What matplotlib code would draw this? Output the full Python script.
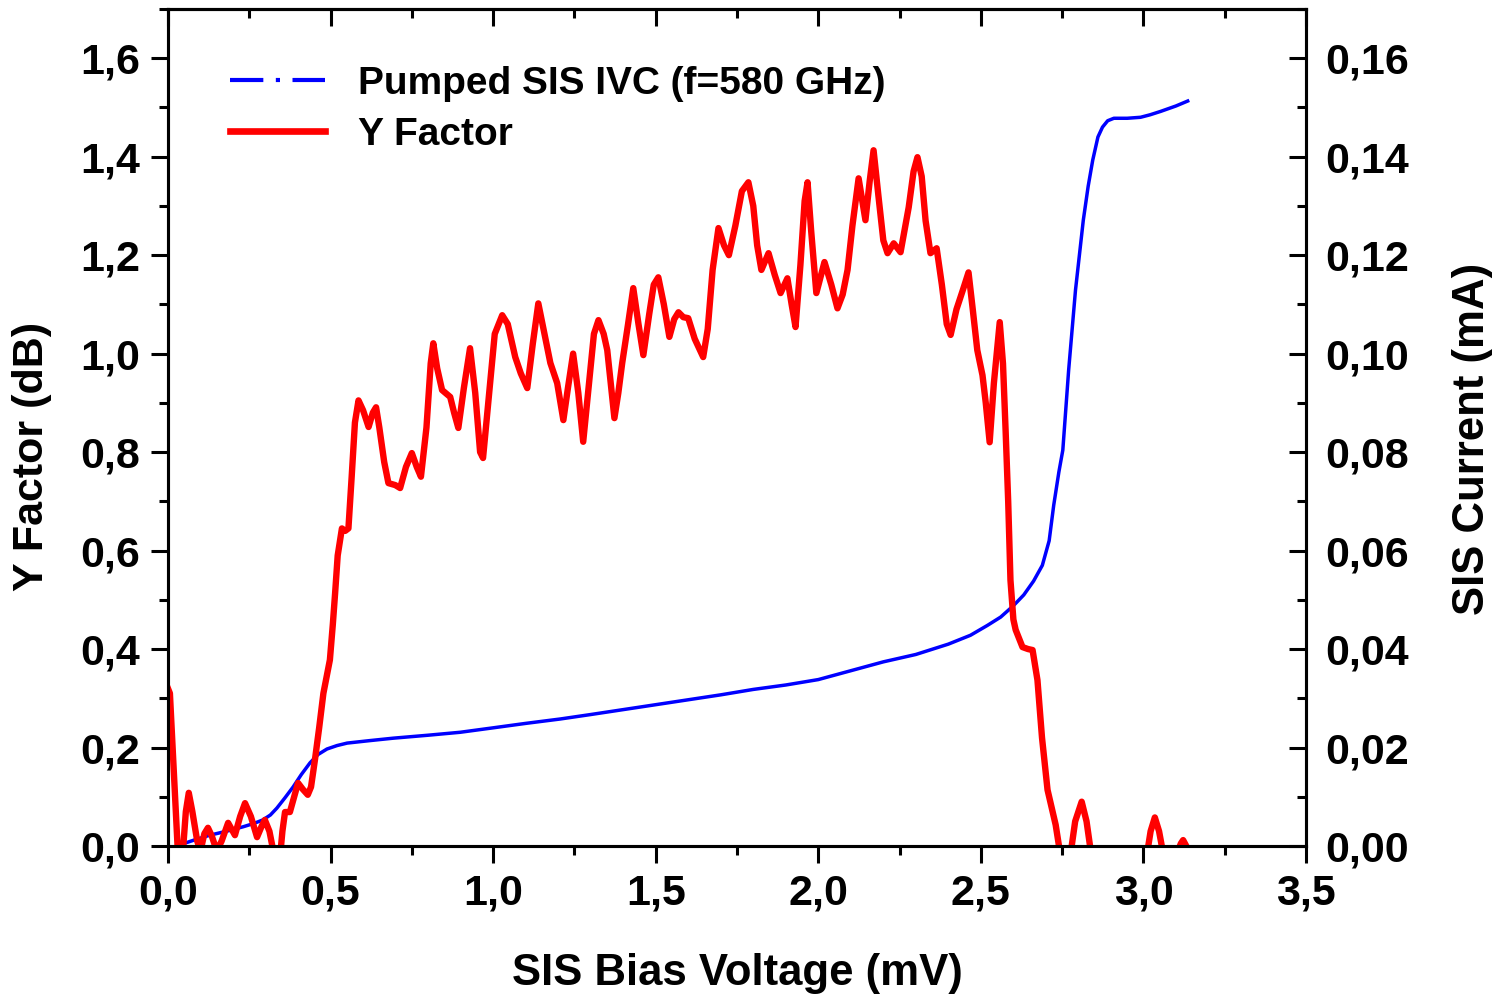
import matplotlib
matplotlib.use("Agg")
import matplotlib.pyplot as plt
from matplotlib.ticker import MultipleLocator, FuncFormatter
from matplotlib.lines import Line2D

# Y factor curve (dB) vs bias voltage (mV)
yf_v = [0.000, 0.006, 0.018, 0.031, 0.045, 0.055, 0.064, 0.075, 0.090, 0.100,
        0.112, 0.123, 0.135, 0.150, 0.165, 0.185, 0.206, 0.222, 0.237, 0.255,
        0.274, 0.288, 0.298, 0.312, 0.327, 0.345, 0.352, 0.360, 0.375, 0.400,
        0.415, 0.430, 0.440, 0.452, 0.465, 0.478, 0.498, 0.507, 0.514, 0.522,
        0.535, 0.545, 0.555, 0.565, 0.575, 0.586, 0.600, 0.617, 0.630, 0.640,
        0.650, 0.665, 0.678, 0.699, 0.714, 0.732, 0.750, 0.765, 0.778, 0.795,
        0.808, 0.816, 0.828, 0.843, 0.868, 0.880, 0.893, 0.910, 0.929, 0.945,
        0.960, 0.969, 0.985, 1.005, 1.028, 1.045, 1.068, 1.085, 1.105, 1.122,
        1.139, 1.155, 1.176, 1.197, 1.216, 1.230, 1.246, 1.262, 1.277, 1.295,
        1.310, 1.324, 1.340, 1.351, 1.373, 1.385, 1.397, 1.415, 1.431, 1.447,
        1.462, 1.480, 1.494, 1.508, 1.525, 1.542, 1.557, 1.570, 1.585, 1.600,
        1.620, 1.646, 1.660, 1.675, 1.693, 1.710, 1.725, 1.745, 1.765, 1.785,
        1.800, 1.812, 1.825, 1.847, 1.866, 1.884, 1.905, 1.918, 1.930, 1.945,
        1.958, 1.967, 1.978, 1.994, 2.019, 2.040, 2.059, 2.075, 2.090, 2.105,
        2.124, 2.145, 2.158, 2.170, 2.185, 2.200, 2.213, 2.232, 2.253, 2.278,
        2.293, 2.305, 2.318, 2.330, 2.345, 2.364, 2.380, 2.395, 2.407, 2.425,
        2.445, 2.462, 2.475, 2.489, 2.505, 2.515, 2.527, 2.540, 2.558, 2.568,
        2.576, 2.584, 2.591, 2.600, 2.607, 2.628, 2.645, 2.659, 2.674, 2.688,
        2.705, 2.730, 2.745, 2.775, 2.790, 2.810, 2.825, 2.840, 3.010, 3.022,
        3.035, 3.048, 3.062, 3.100, 3.115, 3.122, 3.130]
yf_db = [0.32, 0.31, 0.15, -0.02, -0.02, 0.07, 0.108, 0.07, 0.01, -0.01,
         0.025, 0.037, 0.02, -0.01, 0.01, 0.047, 0.022, 0.06, 0.087, 0.06,
         0.018, 0.04, 0.053, 0.03, -0.02, -0.02, 0.03, 0.069, 0.069, 0.128,
         0.115, 0.104, 0.12, 0.175, 0.24, 0.31, 0.378, 0.45, 0.513, 0.59,
         0.645, 0.64, 0.645, 0.75, 0.86, 0.905, 0.885, 0.851, 0.88, 0.891,
         0.85, 0.78, 0.737, 0.733, 0.727, 0.77, 0.798, 0.77, 0.75, 0.85,
         0.98, 1.021, 0.97, 0.926, 0.912, 0.88, 0.849, 0.93, 1.011, 0.92,
         0.80, 0.788, 0.90, 1.04, 1.078, 1.06, 0.993, 0.96, 0.93, 1.02,
         1.102, 1.05, 0.981, 0.94, 0.865, 0.93, 1.0, 0.92, 0.821, 0.94,
         1.04, 1.068, 1.04, 1.007, 0.869, 0.92, 0.981, 1.06, 1.133, 1.06,
         0.997, 1.08, 1.14, 1.155, 1.10, 1.034, 1.07, 1.084, 1.074, 1.072,
         1.03, 0.993, 1.05, 1.17, 1.255, 1.22, 1.2, 1.26, 1.33, 1.348,
         1.30, 1.22, 1.17, 1.204, 1.16, 1.123, 1.153, 1.10, 1.054, 1.18,
         1.31, 1.348, 1.25, 1.123, 1.186, 1.14, 1.092, 1.12, 1.17, 1.26,
         1.356, 1.271, 1.35, 1.413, 1.32, 1.23, 1.204, 1.224, 1.206, 1.297,
         1.37, 1.399, 1.36, 1.27, 1.204, 1.214, 1.14, 1.06, 1.038, 1.09,
         1.13, 1.165, 1.09, 1.007, 0.956, 0.90, 0.82, 0.94, 1.064, 0.98,
         0.845, 0.70, 0.54, 0.46, 0.439, 0.404, 0.40, 0.398, 0.337, 0.22,
         0.114, 0.043, -0.02, -0.02, 0.05, 0.09, 0.05, -0.02, -0.02, 0.03,
         0.058, 0.03, -0.02, -0.02, 0.005, 0.012, 0.002]

# pumped IV curve (mA)
iv_v = [0.040, 0.080, 0.129, 0.180, 0.231, 0.265, 0.292, 0.315, 0.335, 0.360,
        0.385, 0.410, 0.437, 0.462, 0.489, 0.520, 0.551, 0.620, 0.693, 0.800,
        0.899, 1.000, 1.100, 1.207, 1.300, 1.400, 1.500, 1.600, 1.700, 1.800,
        1.900, 2.000, 2.100, 2.200, 2.300, 2.400, 2.468, 2.520, 2.561, 2.600,
        2.632, 2.662, 2.689, 2.710, 2.724, 2.740, 2.752, 2.770, 2.791, 2.815,
        2.830, 2.844, 2.860, 2.874, 2.890, 2.909, 2.950, 2.991, 3.020, 3.053,
        3.100, 3.136]
iv_ma = [0.0003, 0.0012, 0.0022, 0.0030, 0.0039, 0.0046, 0.0053, 0.0063, 0.0077, 0.0098,
         0.0120, 0.0145, 0.0169, 0.0186, 0.0197, 0.0204, 0.0209, 0.0214, 0.0219, 0.0225,
         0.0231, 0.0240, 0.0249, 0.0258, 0.0267, 0.0277, 0.0287, 0.0297, 0.0307, 0.0318,
         0.0327, 0.0338, 0.0356, 0.0374, 0.0389, 0.0410, 0.0428, 0.0448, 0.0465, 0.0488,
         0.0510, 0.0538, 0.0570, 0.0620, 0.0692, 0.0760, 0.0804, 0.0967, 0.1129, 0.1271,
         0.1340, 0.1393, 0.1440, 0.1460, 0.1473, 0.1478, 0.1478, 0.1480, 0.1485, 0.1492,
         0.1503, 0.1513]

plt.rcParams['font.family'] = ['Liberation Sans', 'DejaVu Sans']
plt.rcParams['font.weight'] = 'bold'

fig = plt.figure(figsize=(15.05, 9.96), dpi=100)
ax = fig.add_axes([0.1116, 0.1506, 0.7562, 0.8404])
ax2 = ax.twinx()

ax2.plot(iv_v, iv_ma, color='#0000ff', lw=2.5)
ax.plot(yf_v, yf_db, color='#ff0000', lw=4.6, solid_joinstyle='round')

# red curve sits above the blue one
ax.set_zorder(ax2.get_zorder() + 1)
ax.patch.set_visible(False)

ax.set_xlim(0, 3.5)
ax.set_ylim(0, 1.7)
ax2.set_ylim(0, 0.17)

comma1 = FuncFormatter(lambda v, p: f'{v:.1f}'.replace('.', ','))
comma2 = FuncFormatter(lambda v, p: f'{v:.2f}'.replace('.', ','))

ax.xaxis.set_major_locator(MultipleLocator(0.5))
ax.xaxis.set_minor_locator(MultipleLocator(0.25))
ax.yaxis.set_major_locator(MultipleLocator(0.2))
ax.yaxis.set_minor_locator(MultipleLocator(0.1))
ax2.yaxis.set_major_locator(MultipleLocator(0.02))
ax2.yaxis.set_minor_locator(MultipleLocator(0.01))
ax.xaxis.set_major_formatter(comma1)
ax.yaxis.set_major_formatter(comma1)
ax2.yaxis.set_major_formatter(comma2)

for a in (ax, ax2):
    for s in a.spines.values():
        s.set_linewidth(2.2)

ax.tick_params(which='major', direction='out', length=12, width=2.2,
               labelsize=31, pad=8)
ax.tick_params(which='minor', direction='out', length=6.5, width=2.2)
ax2.tick_params(which='major', direction='in', length=12, width=2.2,
                labelsize=31, pad=14)
ax2.tick_params(which='minor', direction='in', length=6.5, width=2.2)

top = ax.secondary_xaxis('top')
top.xaxis.set_major_locator(MultipleLocator(0.5))
top.xaxis.set_minor_locator(MultipleLocator(0.25))
top.tick_params(which='major', direction='in', length=12, width=2.2, labeltop=False)
top.tick_params(which='minor', direction='in', length=6.5, width=2.2)
top.spines['top'].set_linewidth(2.2)

ax.set_xlabel('SIS Bias Voltage (mV)', fontsize=31.5, fontweight='bold')
ax.set_ylabel('Y Factor (dB)', fontsize=31, fontweight='bold')
ax2.set_ylabel('SIS Current (mA)', fontsize=31.5, fontweight='bold')
ax.xaxis.set_label_coords(0.5004, -0.128)
ax.yaxis.set_label_coords(-0.102, 0.466)
ax2.yaxis.set_label_coords(1.1283, 0.486)

handles = [Line2D([], [], color='#0000ff', lw=3, linestyle=(0, (8, 3, 1, 3))),
           Line2D([], [], color='#ff0000', lw=4.8)]
ax.legend(handles, ['Pumped SIS IVC (f=580 GHz)', 'Y Factor'],
          loc='upper left', bbox_to_anchor=(0.0237, 0.974), frameon=False,
          prop={'size': 28, 'weight': 'bold'}, handlelength=2.44,
          handletextpad=0.85, labelspacing=0.38)

fig.savefig('out.png', dpi=100)
